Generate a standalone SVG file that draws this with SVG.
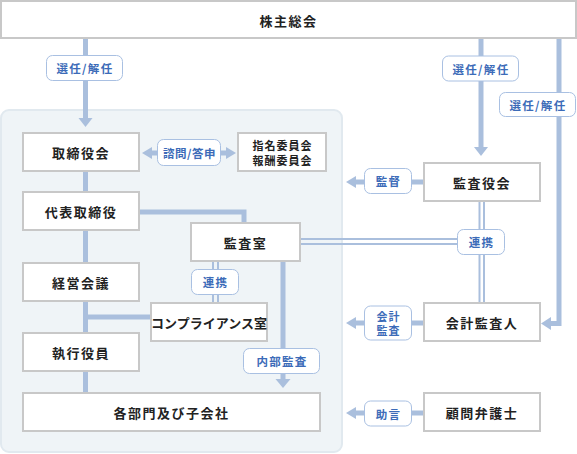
<svg xmlns="http://www.w3.org/2000/svg" width="577" height="454" viewBox="0 0 577 454">
<style>
.box{fill:#fff;stroke:#c8c8c8;stroke-width:2}
.t{font-family:"Noto Sans CJK JP","Noto Sans",sans-serif;font-weight:bold;font-size:13px;fill:#222;text-anchor:middle;dominant-baseline:central;letter-spacing:1.5px}
.t2{font-family:"Noto Sans CJK JP","Noto Sans",sans-serif;font-weight:bold;font-size:11px;fill:#222;text-anchor:middle;dominant-baseline:central;letter-spacing:1px}
.lb{fill:#fff;stroke:#a9c0e2;stroke-width:1}
.lt{font-family:"Noto Sans CJK JP","Noto Sans",sans-serif;font-weight:bold;font-size:11.5px;fill:#3c6bb8;text-anchor:middle;dominant-baseline:central;letter-spacing:1.3px}
.lt2{font-family:"Noto Sans CJK JP","Noto Sans",sans-serif;font-weight:bold;font-size:11px;fill:#3c6bb8;text-anchor:middle;dominant-baseline:central;letter-spacing:1px}
.ln{fill:none;stroke:#aabfdd;stroke-width:5}
.dl{fill:none;stroke:#aabfdd;stroke-width:2}
.ah{fill:#aabfdd}
</style>
<rect x="1" y="110" width="341" height="342" rx="8" fill="#eff4f7" stroke="#e1e9ef" stroke-width="2"/>
<g id="connectors">
<line class="ln" x1="85.5" y1="38" x2="85.5" y2="118"/>
<polygon class="ah" points="78.5,118 92.5,118 85.5,127"/>
<line class="ln" x1="85.5" y1="171" x2="85.5" y2="393"/>
<line class="ln" x1="85" y1="317" x2="151" y2="317"/>
<path class="ln" d="M139 212 H244 V223"/>
<line class="ln" x1="283" y1="261" x2="283" y2="379"/>
<polygon class="ah" points="275.5,379 290.5,379 283,388"/>
<line class="dl" x1="213" y1="261" x2="213" y2="303"/>
<line class="dl" x1="218" y1="261" x2="218" y2="303"/>
<line class="dl" x1="300" y1="239" x2="480" y2="239"/>
<line class="dl" x1="300" y1="244" x2="480" y2="244"/>
<line class="dl" x1="479.5" y1="201" x2="479.5" y2="303"/>
<line class="dl" x1="484" y1="201" x2="484" y2="303"/>
<line class="ln" x1="481" y1="38" x2="481" y2="147"/>
<polygon class="ah" points="474,147 488,147 481,156"/>
<path class="ln" d="M559 38 V323.5 H550"/>
<polygon class="ah" points="551,317 551,330 541,323.5"/>
<line class="ln" x1="424" y1="182" x2="355" y2="182"/>
<polygon class="ah" points="356,176 356,188 346,182"/>
<line class="ln" x1="424" y1="323" x2="355" y2="323"/>
<polygon class="ah" points="356,317 356,329 346,323"/>
<line class="ln" x1="424" y1="413" x2="355" y2="413"/>
<polygon class="ah" points="356,407 356,419 346,413"/>
<line class="ln" x1="151" y1="153" x2="227" y2="153"/>
<polygon class="ah" points="152,147 152,159 142,153"/>
<polygon class="ah" points="226,147 226,159 236,153"/>
</g>
<g id="n-shareholders"><rect class="box" x="1" y="1" width="575" height="37"/><text class="t" x="288.5" y="20.5">株主総会</text></g>
<g id="n-board"><rect class="box" x="23" y="133" width="116" height="38"/><text class="t" x="81" y="152">取締役会</text></g>
<g id="n-committee"><rect class="box" x="238" y="133" width="88" height="38"/><text class="t2" x="282.5" y="144.5">指名委員会</text><text class="t2" x="282.5" y="159.5">報酬委員会</text></g>
<g id="n-president"><rect class="box" x="23" y="192" width="116" height="38"/><text class="t" x="81" y="211">代表取締役</text></g>
<g id="n-audit-office"><rect class="box" x="191" y="223" width="109" height="38"/><text class="t" x="245.5" y="242">監査室</text></g>
<g id="n-mgmt"><rect class="box" x="23" y="263" width="116" height="38"/><text class="t" x="81" y="282">経営会議</text></g>
<g id="n-compliance"><rect class="box" x="151" y="303" width="116" height="38"/><text class="t" x="209" y="322" style="letter-spacing:0">コンプライアンス室</text></g>
<g id="n-officers"><rect class="box" x="23" y="333" width="116" height="38"/><text class="t" x="81" y="352">執行役員</text></g>
<g id="n-divisions"><rect class="box" x="23" y="393" width="297" height="38"/><text class="t" x="171.5" y="412">各部門及び子会社</text></g>
<g id="n-auditors"><rect class="box" x="424" y="163" width="116" height="38"/><text class="t" x="482" y="182">監査役会</text></g>
<g id="n-accountant"><rect class="box" x="424" y="303" width="116" height="38"/><text class="t" x="482" y="322">会計監査人</text></g>
<g id="n-lawyer"><rect class="box" x="424" y="393" width="116" height="38"/><text class="t" x="482" y="412">顧問弁護士</text></g>
<g id="labels">
<rect class="lb" x="46.5" y="55.5" width="76" height="25" rx="6"/><text class="lt" x="85" y="68">選任/解任</text>
<rect class="lb" x="442.5" y="56" width="76" height="25" rx="6"/><text class="lt" x="481" y="68.5">選任/解任</text>
<rect class="lb" x="499.5" y="92.5" width="76" height="24" rx="6"/><text class="lt" x="538" y="104.5">選任/解任</text>
<rect class="lb" x="157.5" y="139.5" width="63" height="26" rx="6"/><text class="lt" x="189.5" y="152.5" style="letter-spacing:0.5px">諮問/答申</text>
<rect class="lb" x="364.5" y="168.5" width="47" height="25" rx="6"/><text class="lt" x="388.5" y="181">監督</text>
<rect class="lb" x="457.5" y="229.5" width="47" height="25" rx="6"/><text class="lt" x="481.5" y="242">連携</text>
<rect class="lb" x="191.5" y="269.5" width="47" height="25" rx="6"/><text class="lt" x="215.5" y="282">連携</text>
<rect class="lb" x="364.5" y="306" width="47" height="34" rx="6"/><text class="lt2" x="388.5" y="315.5">会計</text><text class="lt2" x="388.5" y="330">監査</text>
<rect class="lb" x="243.5" y="348.5" width="76" height="25" rx="6"/><text class="lt" x="282" y="361">内部監査</text>
<rect class="lb" x="364.5" y="401" width="47" height="25" rx="6"/><text class="lt" x="388.5" y="413.5">助言</text>
</g>
</svg>
